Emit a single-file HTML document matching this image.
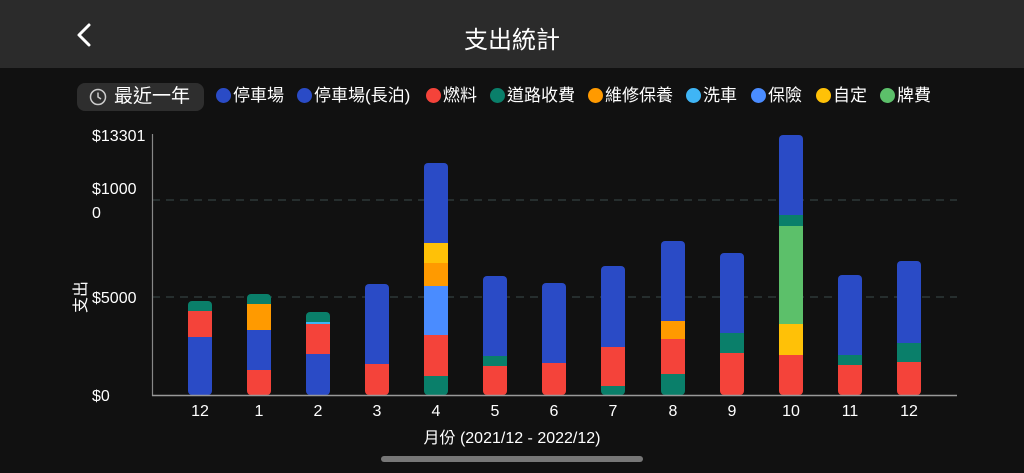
<!DOCTYPE html>
<html><head><meta charset="utf-8"><style>
body{margin:0;width:1024px;height:473px;background:#111;overflow:hidden;font-family:"Liberation Sans","Noto Sans CJK TC",sans-serif;color:#fff;position:relative}
.hdr{position:absolute;left:0;top:0;width:1024px;height:68px;background:#2b2b2b}
.t{position:absolute;white-space:nowrap}
.leg{position:absolute;top:85px;font-size:17px;white-space:nowrap;line-height:22px}
.dot{display:inline-block;width:15px;height:15px;border-radius:50%;vertical-align:-2px;margin-right:2px}
</style></head><body>
<div class="hdr"></div>
<svg class="t" style="left:74px;top:22px" width="20" height="26"><polyline points="15,3 5,13 15,23" fill="none" stroke="#fff" stroke-width="3" stroke-linecap="round" stroke-linejoin="round"/></svg>
<div class="t" style="left:0;width:1024px;text-align:center;top:20px;font-size:24px">支出統計</div>
<div class="t" style="left:77px;top:83px;width:127px;height:28px;background:#2e2e2e;border-radius:8px"></div>
<svg class="t" style="left:89px;top:88px" width="18" height="18"><circle cx="9" cy="9" r="7.5" fill="none" stroke="#ccc" stroke-width="1.5"/><polyline points="9,4.5 9,9 12,11" fill="none" stroke="#ccc" stroke-width="1.5"/></svg>
<div class="t" style="left:114px;top:84px;font-size:19px;line-height:26px">最近一年</div>
<div class="leg" style="left:216px"><span class="dot" style="background:#2a4bc6"></span>停車場</div>
<div class="leg" style="left:297px"><span class="dot" style="background:#2a4bc6"></span>停車場(長泊)</div>
<div class="leg" style="left:426px"><span class="dot" style="background:#f4433a"></span>燃料</div>
<div class="leg" style="left:490px"><span class="dot" style="background:#0a7f6a"></span>道路收費</div>
<div class="leg" style="left:588px"><span class="dot" style="background:#ff9a00"></span>維修保養</div>
<div class="leg" style="left:686px"><span class="dot" style="background:#3fb5f5"></span>洗車</div>
<div class="leg" style="left:751px"><span class="dot" style="background:#4a8cff"></span>保險</div>
<div class="leg" style="left:816px"><span class="dot" style="background:#ffc107"></span>自定</div>
<div class="leg" style="left:880px"><span class="dot" style="background:#5cc06a"></span>牌費</div>
<svg class="t" style="left:0;top:0" width="1024" height="473" font-family="Liberation Sans, Noto Sans CJK TC, sans-serif" fill="#fff">
<line x1="152" y1="200" x2="957" y2="200" stroke="#3c4a4a" stroke-dasharray="8,6"/>
<line x1="152" y1="297" x2="957" y2="297" stroke="#3c4a4a" stroke-dasharray="8,6"/>
<g font-size="16">
<text x="92" y="141">$13301</text>
<text x="92" y="194">$1000</text>
<text x="92" y="218">0</text>
<text x="92" y="303">$5000</text>
<text x="92" y="401">$0</text>
</g>
<text x="86" y="297" font-size="16" transform="rotate(-90 86 297)" text-anchor="middle">支出</text>
<defs>
<clipPath id="c0"><rect x="188" y="301" width="24" height="94" rx="4"/></clipPath>
<clipPath id="c1"><rect x="247" y="294" width="24" height="101" rx="4"/></clipPath>
<clipPath id="c2"><rect x="306" y="312" width="24" height="83" rx="4"/></clipPath>
<clipPath id="c3"><rect x="365" y="284" width="24" height="111" rx="4"/></clipPath>
<clipPath id="c4"><rect x="424" y="163" width="24" height="232" rx="4"/></clipPath>
<clipPath id="c5"><rect x="483" y="276" width="24" height="119" rx="4"/></clipPath>
<clipPath id="c6"><rect x="542" y="283" width="24" height="112" rx="4"/></clipPath>
<clipPath id="c7"><rect x="601" y="266" width="24" height="129" rx="4"/></clipPath>
<clipPath id="c8"><rect x="661" y="241" width="24" height="154" rx="4"/></clipPath>
<clipPath id="c9"><rect x="720" y="253" width="24" height="142" rx="4"/></clipPath>
<clipPath id="c10"><rect x="779" y="135" width="24" height="260" rx="4"/></clipPath>
<clipPath id="c11"><rect x="838" y="275" width="24" height="120" rx="4"/></clipPath>
<clipPath id="c12"><rect x="897" y="261" width="24" height="134" rx="4"/></clipPath>
</defs>
<g clip-path="url(#c0)"><rect x="188" y="301" width="24" height="10" fill="#0a7f6a"/><rect x="188" y="311" width="24" height="26" fill="#f4433a"/><rect x="188" y="337" width="24" height="58" fill="#2a4bc6"/></g>
<g clip-path="url(#c1)"><rect x="247" y="294" width="24" height="10" fill="#0a7f6a"/><rect x="247" y="304" width="24" height="26" fill="#ff9a00"/><rect x="247" y="330" width="24" height="40" fill="#2a4bc6"/><rect x="247" y="370" width="24" height="25" fill="#f4433a"/></g>
<g clip-path="url(#c2)"><rect x="306" y="312" width="24" height="10" fill="#0a7f6a"/><rect x="306" y="322" width="24" height="2" fill="#3fb5f5"/><rect x="306" y="324" width="24" height="30" fill="#f4433a"/><rect x="306" y="354" width="24" height="41" fill="#2a4bc6"/></g>
<g clip-path="url(#c3)"><rect x="365" y="284" width="24" height="80" fill="#2a4bc6"/><rect x="365" y="364" width="24" height="31" fill="#f4433a"/></g>
<g clip-path="url(#c4)"><rect x="424" y="163" width="24" height="80" fill="#2a4bc6"/><rect x="424" y="243" width="24" height="20" fill="#ffc107"/><rect x="424" y="263" width="24" height="23" fill="#ff9a00"/><rect x="424" y="286" width="24" height="49" fill="#4a8cff"/><rect x="424" y="335" width="24" height="41" fill="#f4433a"/><rect x="424" y="376" width="24" height="19" fill="#0a7f6a"/></g>
<g clip-path="url(#c5)"><rect x="483" y="276" width="24" height="80" fill="#2a4bc6"/><rect x="483" y="356" width="24" height="10" fill="#0a7f6a"/><rect x="483" y="366" width="24" height="29" fill="#f4433a"/></g>
<g clip-path="url(#c6)"><rect x="542" y="283" width="24" height="80" fill="#2a4bc6"/><rect x="542" y="363" width="24" height="32" fill="#f4433a"/></g>
<g clip-path="url(#c7)"><rect x="601" y="266" width="24" height="81" fill="#2a4bc6"/><rect x="601" y="347" width="24" height="39" fill="#f4433a"/><rect x="601" y="386" width="24" height="9" fill="#0a7f6a"/></g>
<g clip-path="url(#c8)"><rect x="661" y="241" width="24" height="80" fill="#2a4bc6"/><rect x="661" y="321" width="24" height="18" fill="#ff9a00"/><rect x="661" y="339" width="24" height="35" fill="#f4433a"/><rect x="661" y="374" width="24" height="21" fill="#0a7f6a"/></g>
<g clip-path="url(#c9)"><rect x="720" y="253" width="24" height="80" fill="#2a4bc6"/><rect x="720" y="333" width="24" height="20" fill="#0a7f6a"/><rect x="720" y="353" width="24" height="42" fill="#f4433a"/></g>
<g clip-path="url(#c10)"><rect x="779" y="135" width="24" height="80" fill="#2a4bc6"/><rect x="779" y="215" width="24" height="11" fill="#0a7f6a"/><rect x="779" y="226" width="24" height="98" fill="#5cc06a"/><rect x="779" y="324" width="24" height="31" fill="#ffc107"/><rect x="779" y="355" width="24" height="40" fill="#f4433a"/></g>
<g clip-path="url(#c11)"><rect x="838" y="275" width="24" height="80" fill="#2a4bc6"/><rect x="838" y="355" width="24" height="10" fill="#0a7f6a"/><rect x="838" y="365" width="24" height="30" fill="#f4433a"/></g>
<g clip-path="url(#c12)"><rect x="897" y="261" width="24" height="82" fill="#2a4bc6"/><rect x="897" y="343" width="24" height="19" fill="#0a7f6a"/><rect x="897" y="362" width="24" height="33" fill="#f4433a"/></g>
<line x1="152.5" y1="134" x2="152.5" y2="396" stroke="#888" stroke-width="1.2"/>
<line x1="152" y1="395.5" x2="957" y2="395.5" stroke="#999" stroke-width="1.5"/>
<g font-size="16" text-anchor="middle">
<text x="200" y="416">12</text><text x="259" y="416">1</text><text x="318" y="416">2</text><text x="377" y="416">3</text><text x="436" y="416">4</text><text x="495" y="416">5</text><text x="554" y="416">6</text><text x="613" y="416">7</text><text x="673" y="416">8</text><text x="732" y="416">9</text><text x="791" y="416">10</text><text x="850" y="416">11</text><text x="909" y="416">12</text>
<text x="512" y="443">月份 (2021/12 - 2022/12)</text>
</g>
<rect x="381" y="456" width="262" height="6" rx="3" fill="#777"/>
</svg>
</body></html>
